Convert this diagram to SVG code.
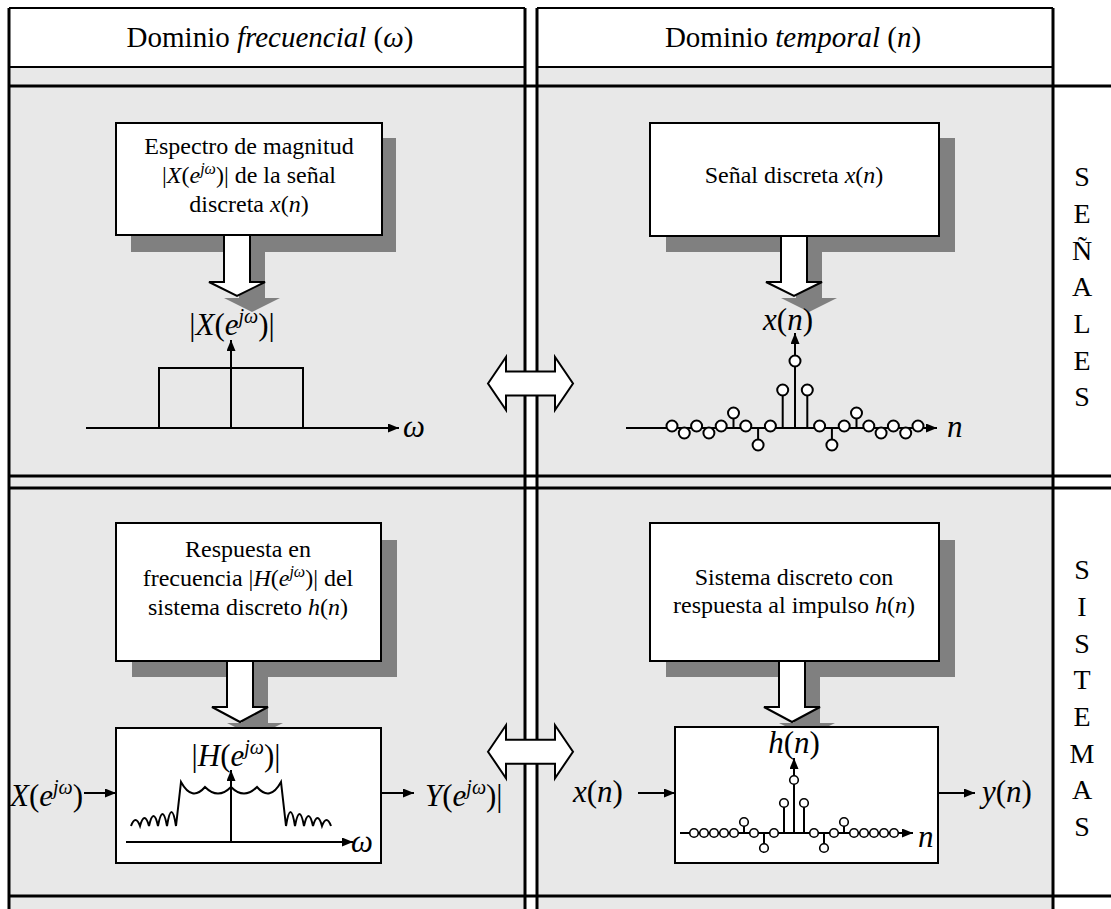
<svg xmlns="http://www.w3.org/2000/svg" width="1111" height="909" viewBox="0 0 1111 909">
<style>
.t{font-family:"Liberation Serif","Times New Roman",serif;fill:#000}
.i{font-style:italic}
.hdr{font-size:29px}
.bx{font-size:24px}
.m{font-size:31px}
.lt{font-size:28px}
.box{fill:#fff;stroke:#000;stroke-width:2}
.sh{fill:#808080}
.ln{stroke:#000;stroke-width:2;fill:none}
.gl{stroke:#000;stroke-width:3;fill:none}
.gl2{stroke:#000;stroke-width:2;fill:none}
.blk{fill:#fff;stroke:#000;stroke-width:2;stroke-linejoin:miter}
.c1{fill:#fff;stroke:#000;stroke-width:2}
.c2{fill:#fff;stroke:#000;stroke-width:1.6}
</style>
<defs>
<marker id="ah" markerUnits="userSpaceOnUse" markerWidth="12" markerHeight="10" refX="11" refY="4.5" orient="auto">
<path d="M0,0 L11,4.5 L0,9 z" fill="#000"/>
</marker>
</defs>

<g id="grid">
<rect x="9" y="67" width="516" height="842" fill="#e8e8e8"/>
<rect x="537" y="67" width="516" height="842" fill="#e8e8e8"/>
<rect x="9" y="8" width="516" height="59" fill="#fff"/>
<rect x="537" y="8" width="516" height="59" fill="#fff"/>
<line class="gl2" x1="9" y1="8" x2="525" y2="8"/>
<line class="gl2" x1="537" y1="8" x2="1053" y2="8"/>
<line class="gl2" x1="9" y1="67" x2="525" y2="67"/>
<line class="gl2" x1="537" y1="67" x2="1053" y2="67"/>
<line class="gl" x1="9" y1="8" x2="9" y2="909"/>
<line class="gl" x1="525" y1="8" x2="525" y2="909"/>
<line class="gl" x1="537" y1="8" x2="537" y2="909"/>
<line class="gl" x1="1053" y1="8" x2="1053" y2="909"/>
<line class="gl" x1="8" y1="86" x2="1111" y2="86"/>
<line class="gl" x1="8" y1="476" x2="1111" y2="476"/>
<line class="gl" x1="8" y1="488" x2="1111" y2="488"/>
<line class="gl" x1="8" y1="896" x2="1111" y2="896"/>
</g>

<g id="header-freq">
<text class="t hdr" x="270" y="47" text-anchor="middle">Dominio <tspan class="i">frecuencial</tspan> (<tspan class="i">ω</tspan>)</text>
</g>
<g id="header-time">
<text class="t hdr" x="793" y="47" text-anchor="middle">Dominio <tspan class="i">temporal</tspan> (<tspan class="i">n</tspan>)</text>
</g>

<g id="shadows">
<rect class="sh" x="131" y="138" width="265" height="114"/>
<polygon class="sh" points="239,251 265,251 265,298 280,298 252,312 224,298 239,298"/>
<rect class="sh" x="666" y="138" width="289" height="114"/>
<polygon class="sh" points="796,251 822,251 822,298 837,298 809,312 781,298 796,298"/>
<rect class="sh" x="132" y="540" width="265" height="137"/>
<polygon class="sh" points="242,676 268,676 268,723 283,723 255,737 227,723 242,723"/>
<rect class="sh" x="666" y="540" width="289" height="137"/>
<polygon class="sh" points="794,676 820,676 820,723 835,723 807,737 779,723 794,723"/>
</g>

<g id="node-espectro">
<rect class="box" x="116" y="123" width="266" height="112"/>
<text class="t bx" x="249" y="154" text-anchor="middle">Espectro de magnitud</text>
<text class="t bx" x="249" y="183" text-anchor="middle">|<tspan class="i">X</tspan>(<tspan class="i">e</tspan><tspan class="i" font-size="16" dy="-9">jω</tspan><tspan dy="9">)| de la señal</tspan></text>
<text class="t bx" x="249" y="212" text-anchor="middle">discreta <tspan class="i">x</tspan>(<tspan class="i">n</tspan>)</text>
</g>

<g id="node-senal">
<rect class="box" x="650" y="123" width="289" height="113"/>
<text class="t bx" x="794" y="183" text-anchor="middle">Señal discreta <tspan class="i">x</tspan>(<tspan class="i">n</tspan>)</text>
</g>

<g id="node-respuesta">
<rect class="box" x="116" y="523" width="265" height="138"/>
<text class="t bx" x="248" y="557" text-anchor="middle">Respuesta en</text>
<text class="t bx" x="248" y="586" text-anchor="middle">frecuencia |<tspan class="i">H</tspan>(<tspan class="i">e</tspan><tspan class="i" font-size="16" dy="-9">jω</tspan><tspan dy="9">)| del</tspan></text>
<text class="t bx" x="248" y="615" text-anchor="middle">sistema discreto <tspan class="i">h</tspan>(<tspan class="i">n</tspan>)</text>
</g>

<g id="node-sistema">
<rect class="box" x="650" y="523" width="289" height="138"/>
<text class="t bx" x="794" y="585" text-anchor="middle">Sistema discreto con</text>
<text class="t bx" x="794" y="613" text-anchor="middle">respuesta al impulso <tspan class="i">h</tspan>(<tspan class="i">n</tspan>)</text>
</g>

<g id="plot-X">
<text class="t m" x="232" y="335" text-anchor="middle">|<tspan class="i">X</tspan>(<tspan class="i">e</tspan><tspan class="i" font-size="20" dy="-12">jω</tspan><tspan dy="12">)|</tspan></text>
<polyline class="ln" points="159,428 159,368 303,368 303,428"/>
<line class="ln" x1="231" y1="428" x2="231" y2="340" marker-end="url(#ah)"/>
<line class="ln" x1="86" y1="428" x2="399" y2="428" marker-end="url(#ah)"/>
<text class="t m i" x="403" y="437">ω</text>
</g>

<g id="plot-x">
<text class="t m" x="788" y="330" text-anchor="middle"><tspan class="i">x</tspan>(<tspan class="i">n</tspan>)</text>
<line class="ln" x1="626" y1="428" x2="937" y2="428" marker-end="url(#ah)"/>
<line class="ln" x1="795" y1="428" x2="795" y2="333" marker-end="url(#ah)"/>
<path class="ln" d="M782.7,428V390M807.3,428V390M758.1,428V445M831.9,428V445M733.5,428V413M856.5,428V413"/>
<circle class="c1" cx="795" cy="361" r="5.5"/>
<circle class="c1" cx="782.7" cy="390" r="5.5"/>
<circle class="c1" cx="807.3" cy="390" r="5.5"/>
<circle class="c1" cx="770.4" cy="426" r="5.5"/>
<circle class="c1" cx="819.6" cy="426" r="5.5"/>
<circle class="c1" cx="758.1" cy="445" r="5.5"/>
<circle class="c1" cx="831.9" cy="445" r="5.5"/>
<circle class="c1" cx="745.8" cy="426" r="5.5"/>
<circle class="c1" cx="844.2" cy="426" r="5.5"/>
<circle class="c1" cx="733.5" cy="413" r="5.5"/>
<circle class="c1" cx="856.5" cy="413" r="5.5"/>
<circle class="c1" cx="721.2" cy="426" r="5.5"/>
<circle class="c1" cx="868.8" cy="426" r="5.5"/>
<circle class="c1" cx="708.9" cy="433" r="5.5"/>
<circle class="c1" cx="881.1" cy="433" r="5.5"/>
<circle class="c1" cx="696.6" cy="426" r="5.5"/>
<circle class="c1" cx="893.4" cy="426" r="5.5"/>
<circle class="c1" cx="684.3" cy="433" r="5.5"/>
<circle class="c1" cx="905.7" cy="433" r="5.5"/>
<circle class="c1" cx="672" cy="426" r="5.5"/>
<circle class="c1" cx="918" cy="426" r="5.5"/>
<text class="t m i" x="947" y="437">n</text>
</g>

<g id="plot-H">
<rect class="box" x="116" y="728" width="265" height="135"/>
<text class="t m" x="236" y="766" text-anchor="middle">|<tspan class="i">H</tspan>(<tspan class="i">e</tspan><tspan class="i" font-size="20" dy="-12">jω</tspan><tspan dy="12">)|</tspan></text>
<line class="ln" x1="231" y1="842" x2="231" y2="770" marker-end="url(#ah)"/>
<line class="ln" x1="126" y1="842" x2="353" y2="842" marker-end="url(#ah)"/>
<path class="ln" d="M131,826 Q135.5,814 140,826 Q144.5,810 149,826 Q153.5,806 158,826 Q162.5,802 167,826 Q171.5,798 176,826 L181,782 Q192,802 205,787 Q218,800 231,787 Q244,800 257,787 Q270,802 281,782 L286,826 Q290.5,798 295,826 Q299.5,802 304,826 Q308.5,806 313,826 Q317.5,810 322,826 Q326.5,814 331,826"/>
<text class="t m i" x="351" y="852">ω</text>
</g>

<g id="plot-h">
<rect class="box" x="675" y="727" width="263" height="136"/>
<text class="t m" x="794" y="753" text-anchor="middle"><tspan class="i">h</tspan>(<tspan class="i">n</tspan>)</text>
<line class="ln" x1="680" y1="833" x2="913" y2="833" marker-end="url(#ah)"/>
<line class="ln" x1="794" y1="833" x2="794" y2="758" marker-end="url(#ah)"/>
<path class="ln" d="M784,833V803M804,833V803M764,833V848M824,833V848M744,833V822M844,833V822"/>
<circle class="c2" cx="794" cy="780" r="4.3"/>
<circle class="c2" cx="784" cy="803" r="4.3"/>
<circle class="c2" cx="804" cy="803" r="4.3"/>
<circle class="c2" cx="774" cy="833" r="4.3"/>
<circle class="c2" cx="814" cy="833" r="4.3"/>
<circle class="c2" cx="764" cy="848" r="4.3"/>
<circle class="c2" cx="824" cy="848" r="4.3"/>
<circle class="c2" cx="754" cy="833" r="4.3"/>
<circle class="c2" cx="834" cy="833" r="4.3"/>
<circle class="c2" cx="744" cy="822" r="4.3"/>
<circle class="c2" cx="844" cy="822" r="4.3"/>
<circle class="c2" cx="734" cy="833" r="4.3"/>
<circle class="c2" cx="724" cy="833" r="4.3"/>
<circle class="c2" cx="714" cy="833" r="4.3"/>
<circle class="c2" cx="704" cy="833" r="4.3"/>
<circle class="c2" cx="694" cy="833" r="4.3"/>
<circle class="c2" cx="854" cy="833" r="4.3"/>
<circle class="c2" cx="864" cy="833" r="4.3"/>
<circle class="c2" cx="874" cy="833" r="4.3"/>
<circle class="c2" cx="884" cy="833" r="4.3"/>
<circle class="c2" cx="894" cy="833" r="4.3"/>
<text class="t m i" x="918" y="847">n</text>
</g>

<g id="io-labels">
<text class="t m" x="10" y="806"><tspan class="i">X</tspan>(<tspan class="i">e</tspan><tspan class="i" font-size="20" dy="-12">jω</tspan><tspan dy="12">)</tspan></text>
<text class="t m" x="425" y="806"><tspan class="i">Y</tspan>(<tspan class="i">e</tspan><tspan class="i" font-size="20" dy="-12">jω</tspan><tspan dy="12">)|</tspan></text>
<text class="t m" x="573" y="802"><tspan class="i">x</tspan>(<tspan class="i">n</tspan>)</text>
<text class="t m" x="982" y="802"><tspan class="i">y</tspan>(<tspan class="i">n</tspan>)</text>
</g>

<g id="label-senales">
<text class="t lt" text-anchor="middle"><tspan x="1082" y="186">S</tspan><tspan x="1082" y="223">E</tspan><tspan x="1082" y="260">Ñ</tspan><tspan x="1082" y="296">A</tspan><tspan x="1082" y="333">L</tspan><tspan x="1082" y="370">E</tspan><tspan x="1082" y="406">S</tspan></text>
</g>
<g id="label-sistemas">
<text class="t lt" text-anchor="middle"><tspan x="1082" y="579">S</tspan><tspan x="1082" y="616">I</tspan><tspan x="1082" y="653">S</tspan><tspan x="1082" y="689">T</tspan><tspan x="1082" y="726">E</tspan><tspan x="1082" y="763">M</tspan><tspan x="1082" y="799">A</tspan><tspan x="1082" y="836">S</tspan></text>
</g>

<g id="connectors">
<polygon class="blk" points="224,235 250,235 250,282 265,282 237,296 209,282 224,282"/>
<polygon class="blk" points="781,236 807,236 807,282 822,282 794,296 766,282 781,282"/>
<polygon class="blk" points="227,661 253,661 253,707 268,707 240,722 212,707 227,707"/>
<polygon class="blk" points="779,661 805,661 805,707 820,707 792,722 764,707 779,707"/>
<polygon class="blk" points="488,383.5 506,357 506,371.5 555,371.5 555,357 573,383.5 555,410 555,395.5 506,395.5 506,410"/>
<polygon class="blk" points="488,751.7 506,725.2 506,739.7 555,739.7 555,725.2 573,751.7 555,778.2 555,763.7 506,763.7 506,778.2"/>
<line class="ln" x1="84" y1="793" x2="116" y2="793" marker-end="url(#ah)"/>
<line class="ln" x1="381" y1="793" x2="414" y2="793" marker-end="url(#ah)"/>
<line class="ln" x1="638" y1="793" x2="675" y2="793" marker-end="url(#ah)"/>
<line class="ln" x1="938" y1="793" x2="975" y2="793" marker-end="url(#ah)"/>
</g>
</svg>
